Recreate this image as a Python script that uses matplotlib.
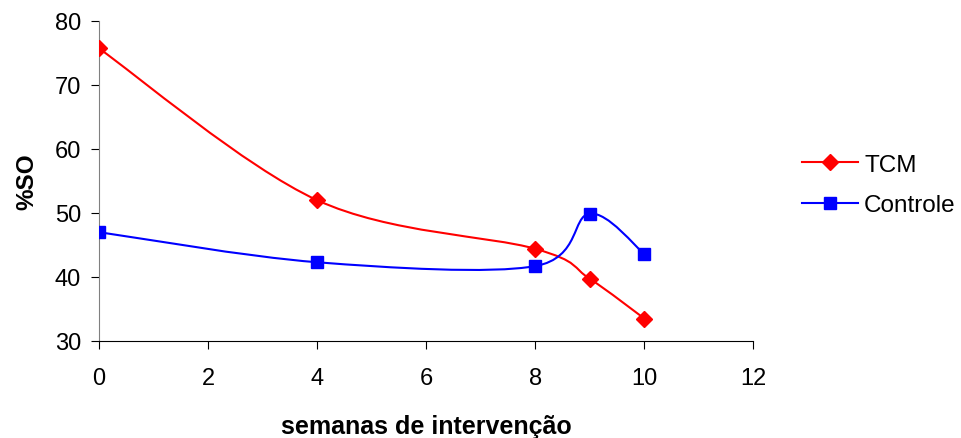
import matplotlib.pyplot as plt
import numpy as np
from matplotlib.path import Path
from matplotlib.patches import PathPatch
from matplotlib.lines import Line2D

plt.rcParams['font.family'] = ['Liberation Sans', 'DejaVu Sans']

semanas = [0, 4, 8, 9, 10]
tcm = [75.7, 52.0, 44.4, 39.7, 33.5]
controle = [47.0, 42.3, 41.7, 49.9, 43.6]


def smooth_path(xs, ys):
    """Curva suavizada (Bezier cubica, estilo Catmull-Rom) passando pelos pontos."""
    pts = np.column_stack([xs, ys]).astype(float)
    n = len(pts)
    verts = [pts[0]]
    codes = [Path.MOVETO]
    for i in range(n - 1):
        p0 = pts[i - 1] if i > 0 else pts[i]
        p1 = pts[i]
        p2 = pts[i + 1]
        p3 = pts[i + 2] if i + 2 < n else pts[i + 1]
        c1 = p1 + (p2 - p0) / 6
        c2 = p2 - (p3 - p1) / 6
        verts += [c1, c2, p2]
        codes += [Path.CURVE4] * 3
    return Path(verts, codes)


fig = plt.figure(figsize=(9.61, 4.39), dpi=100)
ax = fig.add_axes([0.103, 0.221, 0.681, 0.729])

series = [(tcm, 'red', 'D', 8.5, 'TCM'), (controle, 'blue', 's', 8.5, 'Controle')]
handles = []
for vals, cor, mk, ms, nome in series:
    ax.add_patch(PathPatch(smooth_path(semanas, vals), facecolor='none',
                           edgecolor=cor, lw=1.5, zorder=2))
    ax.plot(semanas, vals, ls='none', marker=mk, color=cor, markersize=ms, zorder=3)
    handles.append(Line2D([], [], color=cor, lw=1.5, marker=mk, markersize=ms, label=nome))

ax.set_xlim(0, 12)
ax.set_ylim(30, 80)
ax.set_xticks(range(0, 13, 2))
ax.set_yticks(range(30, 81, 10))

for s in ['top', 'right']:
    ax.spines[s].set_visible(False)
ax.spines['left'].set_color('#808080')
ax.spines['bottom'].set_color('black')
ax.tick_params(axis='y', color='black', length=6, labelsize=17, pad=7)
ax.tick_params(axis='x', length=6, labelsize=17, pad=13)

ax.set_xlabel('semanas de intervenção', fontsize=18, fontweight='bold', labelpad=18)
ax.set_ylabel('%SO', fontsize=17.5, fontweight='bold', labelpad=12)

fig.legend(handles=handles, loc='upper left', bbox_to_anchor=(0.812, 0.697),
           frameon=False, fontsize=17.5, handlelength=2.3, labelspacing=0.75,
           handletextpad=0.25)

fig.savefig('out.png', dpi=100)
